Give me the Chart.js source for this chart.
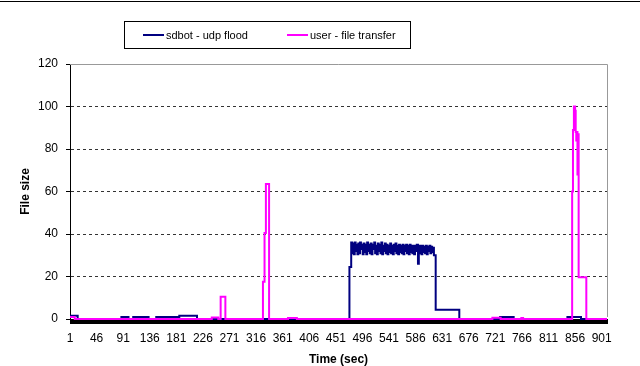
<!DOCTYPE html>
<html>
<head>
<meta charset="utf-8">
<script src="https://cdn.jsdelivr.net/npm/chart.js@4/dist/chart.umd.min.js"></script>
<style>
  html, body { margin: 0; padding: 0; background: #fff; }
  #wrap { position: relative; width: 640px; height: 366px; overflow: hidden; font-family: "Liberation Sans", Arial, sans-serif; }
  #topline { position: absolute; left: 0; top: 1px; width: 640px; height: 0; border-top: 1px solid #000; }
  #legend { position: absolute; left: 124px; top: 21px; width: 285px; height: 26px; border: 1px solid #000; font-size: 11px; color: #000; }
  .item { position: absolute; top: 6px; height: 14px; line-height: 14px; white-space: nowrap; }
  .swatch { display: inline-block; width: 21px; height: 2px; vertical-align: middle; margin-right: 2px; position: relative; top: -1px; }
  canvas { position: absolute; left: 0; top: 0; }
</style>
</head>
<body>
<div id="wrap">
  <canvas id="c" width="640" height="366"></canvas>
  <div id="topline"></div>
  <div id="legend"></div>
</div>
<script>
// ---- data ----
const seriesNames = ["sdbot - udp flood", "user - file transfer"];
const seriesColors = ["#000080", "#FF00FF"];
const yTicks = [0, 20, 40, 60, 80, 100, 120];
const xLabels = [1, 46, 91, 136, 181, 226, 271, 316, 361, 406, 451, 496, 541, 586, 631, 676, 721, 766, 811, 856, 901];

// step points: value holds from time t until the next point
const sdbotTime = [1, 14, 88, 100, 108, 134, 147, 186, 216,
  474, 477, 478.5, 480, 481.5, 483, 484.5, 486, 487.5, 489, 490.5, 492, 493.5, 495, 496.5, 498, 499.5, 501, 502.5, 504, 505.5,
  507, 508.5, 510, 511.5, 513, 514.5, 516, 517.5, 519, 520.5, 522, 523.5, 525, 526.5, 528, 529.5, 531, 532.5, 534, 535.5,
  537, 538.5, 540, 541.5, 543, 544.5, 546, 547.5, 549, 550.5, 552, 553.5, 555, 556.5, 558, 559.5, 561, 562.5, 564, 565.5,
  567, 568.5, 570, 571.5, 573, 574.5, 576, 577.5, 579, 580.5, 582, 583.5, 585, 586.5, 588, 590, 591.5, 593, 594.5, 596,
  597.5, 599, 600.5, 602, 603.5, 605, 606.5, 608, 609.5, 611, 612.5, 614, 615.5, 617, 620, 660, 729, 752, 843, 866, 910];
const sdbotSize = [1.5, 0, 1, 0, 1, 0, 1, 1.5, 0,
  24.5, 36, 31, 35.5, 30.5, 36, 32, 35, 30.5, 35.5, 31, 36, 33, 35, 30.5, 35.5, 31.5, 35, 30.5, 36, 32,
  35, 31, 35.5, 30.5, 35, 33, 36, 31, 34.5, 30.5, 35.5, 32, 35, 31, 36, 30.5, 34.5, 32, 35.5, 31,
  35, 30.5, 34.5, 31.5, 35.5, 31, 34.5, 30.5, 35, 32, 35.5, 31, 34.5, 30.5, 35, 31.5, 34.5, 31, 35, 30.5,
  34.5, 32, 35, 31, 34.5, 30.5, 35, 31.5, 34.5, 31, 34.5, 30.5, 34.5, 32, 35, 26, 34.5, 31, 34.5, 30.5,
  34.5, 31.5, 34, 31, 34.5, 30.5, 34, 32, 34.5, 31, 34, 31.5, 33.5, 30, 4.4, 0, 1, 0, 1, 0, 0];

const userTime = [1, 9, 241, 252, 256, 264, 327.6, 330.3, 332.6, 338, 370, 385, 716, 730, 765, 768, 851, 852.4, 854, 856, 857, 858, 859, 860, 861, 862, 875, 910];
const userSize = [1, 0, 0.7, 0, 10.5, 0, 17.5, 40.5, 63.5, 0, 0.5, 0, 0.6, 0, 0.5, 0, 60, 89, 100, 98, 88, 84, 88, 68, 87, 19.6, 0, 0];

const toPoints = (xs, ys) => xs.map((x, i) => ({ x: x, y: ys[i] }));

// legend (HTML, real text)
const legend = document.getElementById('legend');
const legendPos = [18, 162];
seriesNames.forEach((n, i) => {
  const d = document.createElement('div');
  d.className = 'item';
  d.style.left = legendPos[i] + 'px';
  d.innerHTML = '<span class="swatch" style="background:' + seriesColors[i] + '"></span>' + n;
  legend.appendChild(d);
});

const frame = {
  id: 'frame',
  afterDatasetsDraw(chart) {
    const { ctx, chartArea: a } = chart;
    ctx.save();
    ctx.strokeStyle = '#999999';
    ctx.lineWidth = 1;
    ctx.beginPath();
    ctx.moveTo(a.left, Math.round(a.top) + 0.5);
    ctx.lineTo(Math.round(a.right) + 0.5, Math.round(a.top) + 0.5);
    ctx.lineTo(Math.round(a.right) + 0.5, a.bottom - 2);
    ctx.stroke();
    ctx.restore();
  }
};

new Chart(document.getElementById('c'), {
  type: 'line',
  data: {
    datasets: [
      { label: seriesNames[0], data: toPoints(sdbotTime, sdbotSize), borderColor: seriesColors[0], backgroundColor: seriesColors[0], borderWidth: 2, pointRadius: 0, stepped: 'before', order: 1, clip: 4 },
      { label: seriesNames[1], data: toPoints(userTime, userSize), borderColor: seriesColors[1], backgroundColor: seriesColors[1], borderWidth: 2, pointRadius: 0, stepped: 'before', order: 0, clip: 4 }
    ]
  },
  options: {
    responsive: false,
    animation: false,
    devicePixelRatio: 1,
    layout: { padding: { top: 64, right: 33, left: 0, bottom: 0 } },
    plugins: { legend: { display: false }, tooltip: { enabled: false } },
    scales: {
      x: {
        type: 'linear',
        min: 1,
        max: 910,
        afterFit: s => { s.height = 47; },
        afterBuildTicks: s => {
          const t = [];
          for (let v = 1; v <= 910; v++) t.push({ value: v });
          s.ticks = t;
        },
        ticks: {
          autoSkip: false,
          maxRotation: 0,
          padding: 7,
          color: '#000',
          font: { family: '"Liberation Sans", Arial, sans-serif', size: 12 },
          callback: v => (xLabels.includes(v) ? String(v) : '')
        },
        grid: { drawOnChartArea: false, drawTicks: true, tickLength: 5, tickColor: '#000', tickWidth: 1 },
        border: { display: true, color: '#000', width: 1 },
        title: { display: true, text: 'Time (sec)', color: '#000', font: { family: '"Liberation Sans", Arial, sans-serif', size: 12, weight: 'bold' }, padding: { top: 0, bottom: -1 } }
      },
      y: {
        min: 0,
        max: 120,
        afterFit: s => { s.width = 70; },
        afterBuildTicks: s => { s.ticks = yTicks.map(v => ({ value: v })); },
        ticks: {
          padding: 8,
          color: '#000',
          font: { family: '"Liberation Sans", Arial, sans-serif', size: 12 }
        },
        grid: {
          color: c => (c.tick && (c.tick.value === 0 || c.tick.value === 120) ? 'rgba(0,0,0,0)' : '#333333'),
          tickColor: '#000',
          tickLength: 4,
          lineWidth: 1
        },
        border: { display: true, color: '#000', width: 1, dash: [3, 3] },
        title: { display: true, text: 'File size', color: '#000', font: { family: '"Liberation Sans", Arial, sans-serif', size: 12, weight: 'bold' }, padding: { top: 18, bottom: 0 } }
      }
    }
  },
  plugins: [frame]
});
</script>
</body>
</html>
